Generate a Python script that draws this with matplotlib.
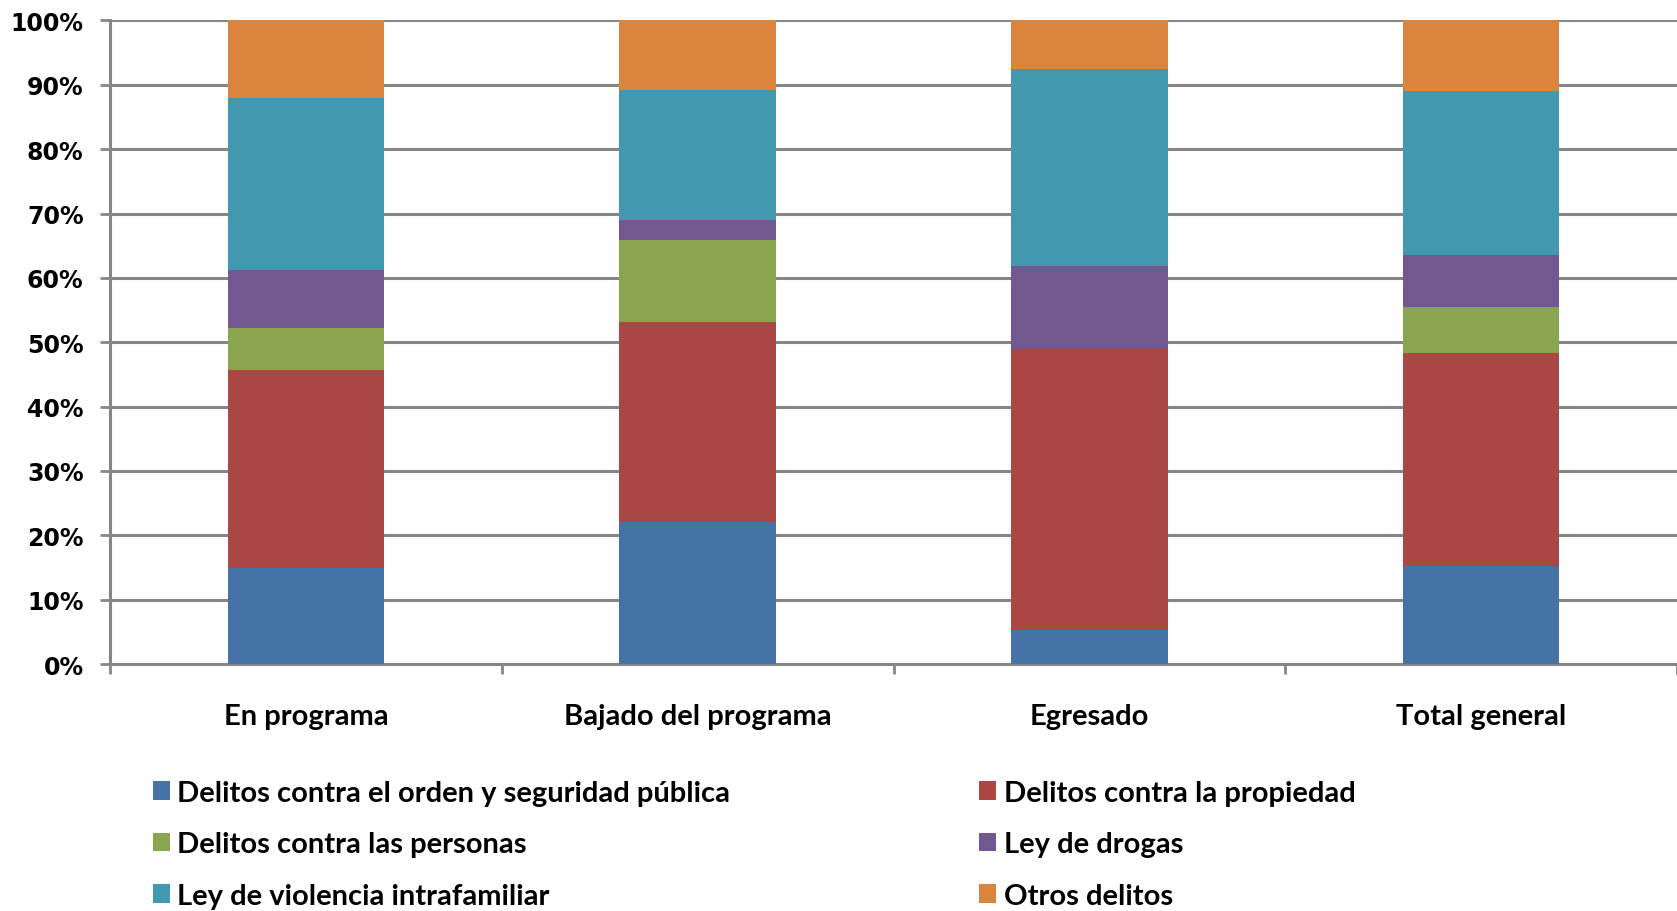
import matplotlib
matplotlib.use('Agg')
import matplotlib.pyplot as plt
import numpy as np

# datos (porcentaje de cada tipo de delito por estado)
categorias = ['En programa', 'Bajado del programa', 'Egresado', 'Total general']
series = ['Delitos contra el orden y seguridad pública',
          'Delitos contra la propiedad',
          'Delitos contra las personas',
          'Ley de drogas',
          'Ley de violencia intrafamiliar',
          'Otros delitos']
orden_seguridad = [14.9, 22.0, 5.3, 15.2]
propiedad = [30.8, 31.2, 43.6, 33.2]
personas = [6.5, 12.7, 0.0, 7.0]
drogas = [9.1, 3.1, 12.9, 8.2]
violencia_intrafamiliar = [26.6, 20.2, 30.6, 25.5]
otros = [12.1, 10.8, 7.6, 10.9]
colores = ['#4572A7', '#AA4643', '#89A54E', '#71588F', '#4198AF', '#DB843D']

valores = [orden_seguridad, propiedad, personas, drogas, violencia_intrafamiliar, otros]

fig = plt.figure(figsize=(16.77, 9.12), dpi=100)
ax = fig.add_axes([0.0656, 0.2708, 0.9344, 0.7057])
gris = '#868686'

x = np.arange(len(categorias))
base = np.zeros(len(categorias))
barras = []
for nombre, v, c in zip(series, valores, colores):
    v = np.array(v) / 100.0
    b = ax.bar(x, v, width=0.4, bottom=base, color=c, label=nombre, zorder=3)
    barras.append(b)
    base += v

ax.set_xlim(-0.5, 3.5)
ax.set_ylim(0, 1)
ax.set_yticks(np.arange(0, 1.01, 0.1))
ax.set_yticklabels(['%d%%' % (t * 100) for t in np.arange(0, 1.01, 0.1)],
                   fontfamily='DejaVu Sans', fontweight='bold', fontsize=17)
ax.grid(axis='y', color=gris, lw=2.2, zorder=0)
ax.tick_params(axis='y', length=7, width=2, color=gris, pad=12)

ax.set_xticks(x)
ax.set_xticklabels(categorias, fontfamily='Lato', fontweight='bold', fontsize=21)
ax.set_xticks(np.arange(-0.5, 3.6, 1), minor=True)
ax.tick_params(axis='x', which='major', length=0, pad=28)
ax.tick_params(axis='x', which='minor', length=7, width=2, color=gris)

for s in ['top', 'right']:
    ax.spines[s].set_visible(False)
for s in ['left', 'bottom']:
    ax.spines[s].set_color(gris)
    ax.spines[s].set_linewidth(2.2)

# leyenda en dos columnas
izq = [0, 2, 4]
der = [1, 3, 5]
for idx, xpos in [(izq, 0.0823), (der, 0.5750)]:
    fig.legend([barras[i] for i in idx], [series[i] for i in idx],
               loc='upper left', bbox_to_anchor=(xpos, 0.160),
               frameon=False, borderpad=0, handlelength=0.6, handleheight=0.6,
               handletextpad=0.25, labelspacing=0.88,
               prop={'family': 'Lato', 'weight': 'bold', 'size': 21})

fig.savefig('out.png', dpi=100)
